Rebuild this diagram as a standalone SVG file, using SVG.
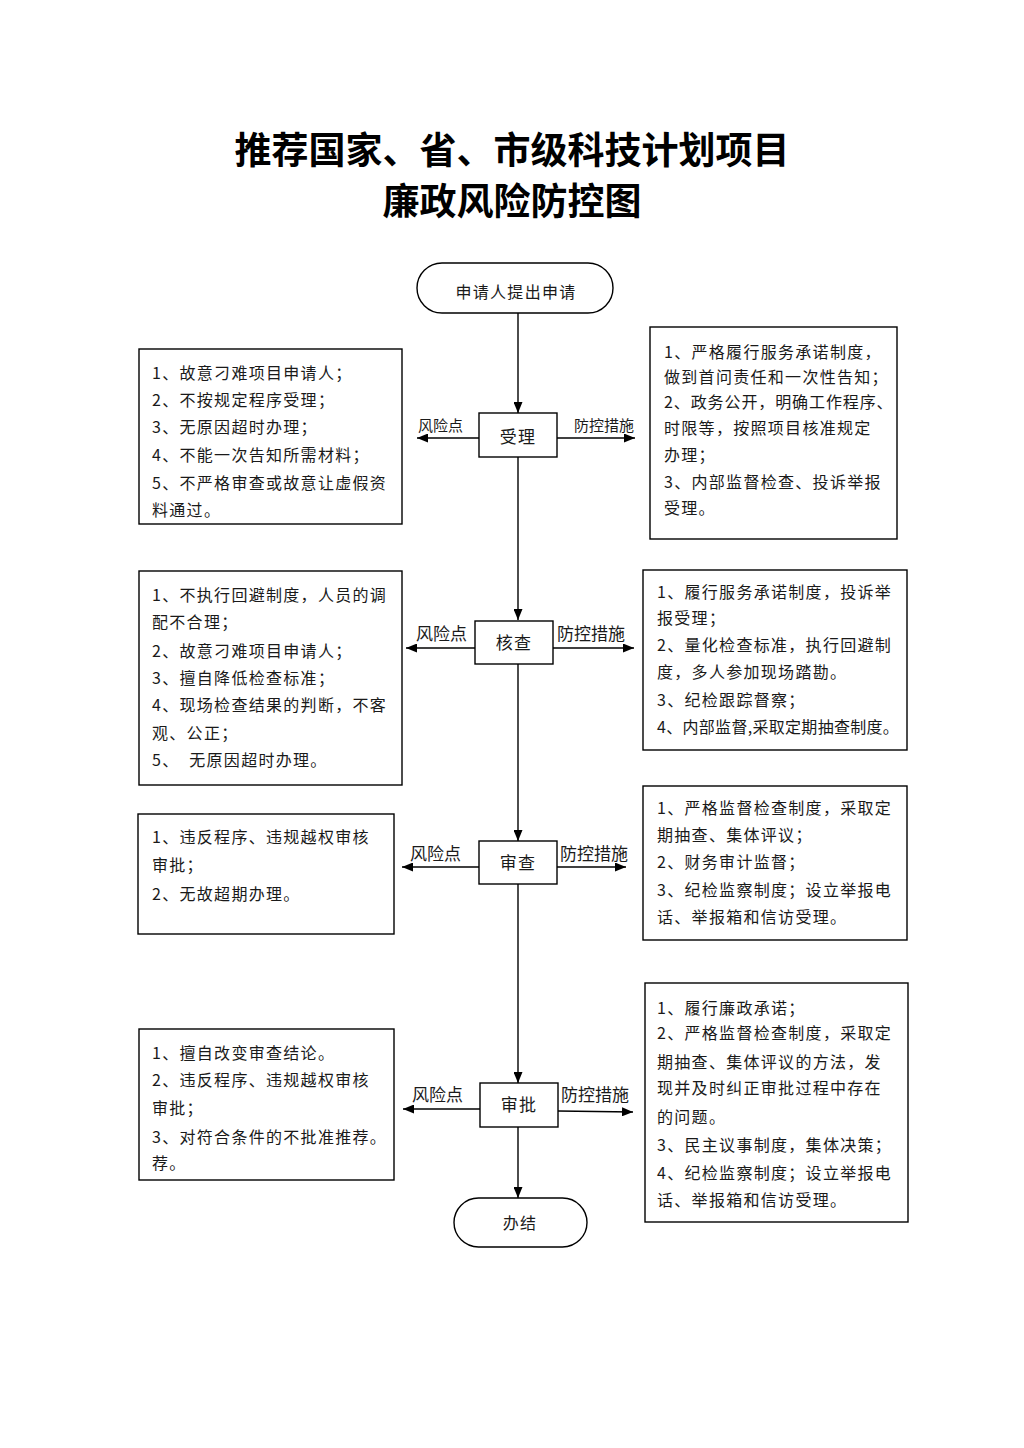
<svg xmlns="http://www.w3.org/2000/svg" width="1024" height="1448" viewBox="0 0 1024 1448">
<defs>
<marker id="arr" markerWidth="11" markerHeight="9" refX="11" refY="4.5" orient="auto" markerUnits="userSpaceOnUse">
<path d="M0,0 L11,4.5 L0,9 Z" fill="#000"/>
</marker>
<style>
.t{font-family:"Noto Sans CJK SC","Noto Sans",sans-serif;fill:#1a1a1a;font-size:16px;letter-spacing:1.3px}
.title{font-family:"Noto Sans CJK SC","Noto Sans",sans-serif;fill:#000;font-size:37px;font-weight:700;text-anchor:middle}
.box{fill:#fff;stroke:#000;stroke-width:1.4}
.c{text-anchor:middle}
.lb{font-family:"Noto Sans CJK SC","Noto Sans",sans-serif;fill:#1a1a1a;font-size:16px}
.ln{stroke:#000;stroke-width:1.4;fill:none}
</style>
</defs>
<rect width="1024" height="1448" fill="#fff"/>
<g id="title">
<text class="title" x="512" y="164">推荐国家、省、市级科技计划项目</text>
<text class="title" x="512" y="215">廉政风险防控图</text>
</g>
<g id="connectors">
<line class="ln" x1="518" y1="313" x2="518" y2="413" marker-end="url(#arr)"/>
<line class="ln" x1="518" y1="457" x2="518" y2="620" marker-end="url(#arr)"/>
<line class="ln" x1="518" y1="664" x2="518" y2="841" marker-end="url(#arr)"/>
<line class="ln" x1="518" y1="884" x2="518" y2="1083" marker-end="url(#arr)"/>
<line class="ln" x1="518" y1="1127" x2="518" y2="1198" marker-end="url(#arr)"/>
<line class="ln" x1="479" y1="438" x2="417" y2="438" marker-end="url(#arr)"/>
<line class="ln" x1="557" y1="438" x2="635" y2="438" marker-end="url(#arr)"/>
<line class="ln" x1="475" y1="648" x2="406" y2="648" marker-end="url(#arr)"/>
<line class="ln" x1="553" y1="648" x2="634" y2="648" marker-end="url(#arr)"/>
<line class="ln" x1="479" y1="867" x2="402" y2="867" marker-end="url(#arr)"/>
<line class="ln" x1="557" y1="867" x2="626" y2="867" marker-end="url(#arr)"/>
<line class="ln" x1="480" y1="1109" x2="403" y2="1109" marker-end="url(#arr)"/>
<line class="ln" x1="558" y1="1111" x2="633" y2="1112" marker-end="url(#arr)"/>
<text class="lb" x="418" y="431" style="font-size:15px">风险点</text>
<text class="lb" x="574" y="431" style="font-size:15px">防控措施</text>
<text class="lb" x="416" y="640" style="font-size:17px">风险点</text>
<text class="lb" x="557" y="640" style="font-size:17px">防控措施</text>
<text class="lb" x="410" y="860" style="font-size:17px">风险点</text>
<text class="lb" x="560" y="860" style="font-size:17px">防控措施</text>
<text class="lb" x="412" y="1101" style="font-size:17px">风险点</text>
<text class="lb" x="561" y="1101" style="font-size:17px">防控措施</text>
</g>
<g id="start">
<rect class="box" x="417" y="263" width="196" height="50" rx="25" ry="25"/>
<text class="t c" x="516" y="298">申请人提出申请</text>
</g>
<g id="shouli">
<rect class="box" x="479" y="413" width="78" height="44"/>
<text class="t c" x="518" y="443" style="font-size:17px">受理</text>
</g>
<g id="hecha">
<rect class="box" x="475" y="621" width="78" height="43"/>
<text class="t c" x="514" y="649" style="font-size:17px">核查</text>
</g>
<g id="shencha">
<rect class="box" x="479" y="841" width="78" height="43"/>
<text class="t c" x="518" y="869" style="font-size:17px">审查</text>
</g>
<g id="shenpi">
<rect class="box" x="480" y="1083" width="78" height="44"/>
<text class="t c" x="519" y="1111" style="font-size:17px">审批</text>
</g>
<g id="end">
<rect class="box" x="454" y="1198" width="133" height="49" rx="24.5" ry="24.5"/>
<text class="t c" x="520" y="1229">办结</text>
</g>
<g id="risk1">
<rect class="box" x="139" y="349" width="263" height="175"/>
<text class="t" x="152" y="379">1、故意刁难项目申请人；</text>
<text class="t" x="152" y="406">2、不按规定程序受理；</text>
<text class="t" x="152" y="433">3、无原因超时办理；</text>
<text class="t" x="152" y="461">4、不能一次告知所需材料；</text>
<text class="t" x="152" y="489">5、不严格审查或故意让虚假资</text>
<text class="t" x="152" y="516">料通过。</text>
</g>
<g id="measure1">
<rect class="box" x="650" y="327" width="247" height="212"/>
<text class="t" x="664" y="358">1、严格履行服务承诺制度，</text>
<text class="t" x="664" y="383">做到首问责任和一次性告知；</text>
<text class="t" x="664" y="408" style="letter-spacing:0.9px">2、政务公开，明确工作程序、</text>
<text class="t" x="664" y="434">时限等，按照项目核准规定</text>
<text class="t" x="664" y="461">办理；</text>
<text class="t" x="664" y="488">3、内部监督检查、投诉举报</text>
<text class="t" x="664" y="514">受理。</text>
</g>
<g id="risk2">
<rect class="box" x="139" y="571" width="263" height="214"/>
<text class="t" x="152" y="601">1、不执行回避制度，人员的调</text>
<text class="t" x="152" y="628">配不合理；</text>
<text class="t" x="152" y="657">2、故意刁难项目申请人；</text>
<text class="t" x="152" y="684">3、擅自降低检查标准；</text>
<text class="t" x="152" y="711">4、现场检查结果的判断，不客</text>
<text class="t" x="152" y="739">观、公正；</text>
<text class="t" x="152" y="766" xml:space="preserve">5、  无原因超时办理。</text>
</g>
<g id="measure2">
<rect class="box" x="643" y="570" width="264" height="180"/>
<text class="t" x="657" y="598">1、履行服务承诺制度，投诉举</text>
<text class="t" x="657" y="624">报受理；</text>
<text class="t" x="657" y="651">2、量化检查标准，执行回避制</text>
<text class="t" x="657" y="678">度，多人参加现场踏勘。</text>
<text class="t" x="657" y="706">3、纪检跟踪督察；</text>
<text class="t" x="657" y="733" style="letter-spacing:0.3px">4、内部监督,采取定期抽查制度。</text>
</g>
<g id="risk3">
<rect class="box" x="138" y="814" width="256" height="120"/>
<text class="t" x="152" y="843">1、违反程序、违规越权审核</text>
<text class="t" x="152" y="871">审批；</text>
<text class="t" x="152" y="900">2、无故超期办理。</text>
</g>
<g id="measure3">
<rect class="box" x="643" y="786" width="264" height="154"/>
<text class="t" x="657" y="814">1、严格监督检查制度，采取定</text>
<text class="t" x="657" y="841">期抽查、集体评议；</text>
<text class="t" x="657" y="868">2、财务审计监督；</text>
<text class="t" x="657" y="896">3、纪检监察制度；设立举报电</text>
<text class="t" x="657" y="923">话、举报箱和信访受理。</text>
</g>
<g id="risk4">
<rect class="box" x="139" y="1029" width="255" height="151"/>
<text class="t" x="152" y="1059">1、擅自改变审查结论。</text>
<text class="t" x="152" y="1086">2、违反程序、违规越权审核</text>
<text class="t" x="152" y="1114">审批；</text>
<text class="t" x="152" y="1143">3、对符合条件的不批准推荐。</text>
<text class="t" x="152" y="1169">荐。</text>
</g>
<g id="measure4">
<rect class="box" x="645" y="983" width="263" height="239"/>
<text class="t" x="657" y="1014">1、履行廉政承诺；</text>
<text class="t" x="657" y="1039">2、严格监督检查制度，采取定</text>
<text class="t" x="657" y="1068">期抽查、集体评议的方法，发</text>
<text class="t" x="657" y="1094">现并及时纠正审批过程中存在</text>
<text class="t" x="657" y="1123">的问题。</text>
<text class="t" x="657" y="1151">3、民主议事制度，集体决策；</text>
<text class="t" x="657" y="1179">4、纪检监察制度；设立举报电</text>
<text class="t" x="657" y="1206">话、举报箱和信访受理。</text>
</g>
</svg>
